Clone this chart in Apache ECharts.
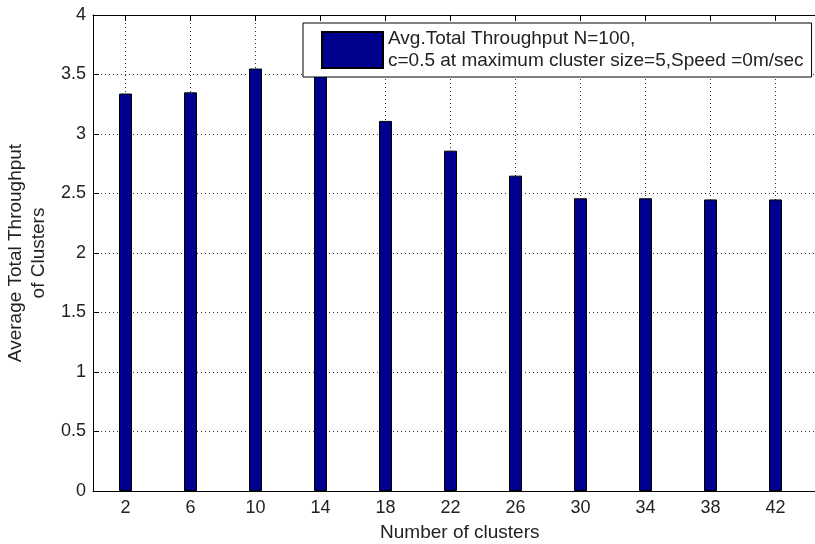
<!DOCTYPE html>
<html>
<head>
<meta charset="utf-8">
<script src="https://cdn.jsdelivr.net/npm/echarts@6/dist/echarts.min.js"></script>
<style>
  html, body { margin: 0; padding: 0; background: #ffffff; }
  #chart { width: 815px; height: 544px; }
</style>
</head>
<body>
<div id="chart"></div>
<script>
// Number of clusters on the x axis and the measured average throughput for each
const clusterCounts = [2, 6, 10, 14, 18, 22, 26, 30, 34, 38, 42];
const avgThroughput = [3.34, 3.35, 3.55, 3.57, 3.11, 2.86, 2.65, 2.46, 2.46, 2.45, 2.45];
const seriesName = 'Avg.Total Throughput N=100,\nc=0.5 at maximum cluster size=5,Speed =0m/sec';
const xTitle = 'Number of clusters';
const yTitle = 'Average Total Throughput\nof Clusters';

const FONT = '"Liberation Sans", Arial, sans-serif';
const TEXT = '#222222';
const dotted = { color: '#333333', width: 1, type: [1, 3] };

const chart = echarts.init(document.getElementById('chart'), null, { renderer: 'canvas' });

chart.setOption({
  animation: false,
  backgroundColor: '#ffffff',
  textStyle: { fontFamily: FONT, color: TEXT },
  grid: { left: 93, top: 15, width: 747.5, height: 476, containLabel: false, outerBoundsMode: 'none' },
  legend: {
    left: 303,
    top: 23,
    padding: [5, 8, 5, 18],
    itemWidth: 61,
    itemHeight: 36,
    icon: 'rect',
    backgroundColor: '#ffffff',
    borderColor: '#000000',
    borderWidth: 1,
    textStyle: { fontFamily: FONT, fontSize: 19, lineHeight: 22, color: TEXT },
    data: [seriesName]
  },
  xAxis: [
    {
      type: 'value',
      position: 'bottom',
      min: 0,
      max: 46,
      name: xTitle,
      nameLocation: 'middle',
      nameGap: 32,
      nameTextStyle: { fontFamily: FONT, fontSize: 19, color: TEXT, padding: [0, 14, 0, 0] },
      axisLine: { show: true, lineStyle: { color: '#000000', width: 1 } },
      axisTick: { show: true, inside: true, length: 6, customValues: clusterCounts, lineStyle: { color: '#000000' } },
      axisLabel: { show: true, customValues: clusterCounts, margin: 8, fontSize: 18, color: TEXT, fontFamily: FONT },
      splitLine: { show: true, lineStyle: dotted }
    },
    {
      type: 'value',
      position: 'top',
      min: 0,
      max: 46,
      axisLine: { show: true, lineStyle: { color: '#000000', width: 1 } },
      axisTick: { show: true, inside: true, length: 6, customValues: clusterCounts, lineStyle: { color: '#000000' } },
      axisLabel: { show: false },
      splitLine: { show: false }
    }
  ],
  yAxis: {
    type: 'value',
    min: 0,
    max: 4,
    interval: 0.5,
    name: yTitle,
    nameLocation: 'middle',
    nameGap: 40,
    nameRotate: 90,
    nameTextStyle: { fontFamily: FONT, fontSize: 19, lineHeight: 23, color: TEXT },
    axisLine: { show: true, lineStyle: { color: '#000000', width: 1 } },
    axisTick: { show: true, inside: true, length: 6, lineStyle: { color: '#000000' } },
    axisLabel: { margin: 7, fontSize: 18, color: TEXT, fontFamily: FONT },
    splitLine: { show: true, lineStyle: dotted }
  },
  series: [
    {
      name: seriesName,
      type: 'bar',
      xAxisIndex: 0,
      barWidth: 13,
      itemStyle: { color: '#00008F', borderColor: '#000000', borderWidth: 1 },
      data: clusterCounts.map((c, i) => [c, avgThroughput[i]])
    }
  ]
});
</script>
</body>
</html>
